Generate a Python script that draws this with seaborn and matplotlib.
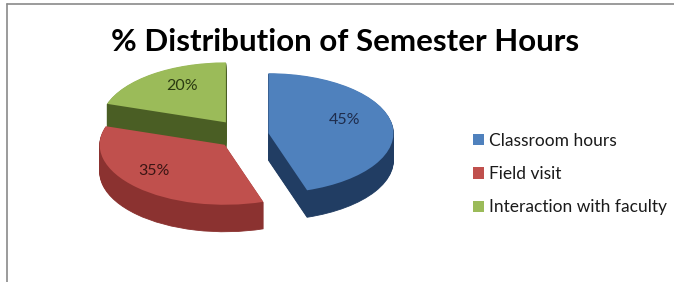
import numpy as np
import matplotlib
matplotlib.use("Agg")
import matplotlib.pyplot as plt
from matplotlib.lines import Line2D
import seaborn as sns

# data
categories = ["Classroom hours", "Field visit", "Interaction with faculty"]
shares = [45, 35, 20]
top_colors = ["#4F81BD", "#C0504D", "#9BBB59"]
side_colors = ["#213D63", "#8B3230", "#4A5E24"]
text_colors = ["#1E2C4C", "#3A1514", "#2B3A12"]
explode = [0.19, 0.23, 0.26]
label_dist = [0.62, 0.80, 0.60]

sns.set_theme(style="white")
plt.rcParams["font.family"] = ["Lato", "DejaVu Sans"]

W, H = 674, 282
fig = plt.figure(figsize=(W / 100, H / 100), dpi=100)
fig.patch.set_facecolor("white")

# pie geometry in pixels: centre, horizontal / vertical radius, depth
cx, cy = 245, 135
a, b = 125, 60
depth = 27

ax = fig.add_axes([0, 0, 1, 1])

# side walls: stacked layers shifted downwards
for k in range(depth, 0, -1):
    ax.pie(shares, colors=side_colors, explode=explode, startangle=90,
           counterclock=False, radius=1, center=(0, -k / b),
           wedgeprops=dict(linewidth=0.6, antialiased=True))
    for w, c in zip(ax.patches[-3:], side_colors):
        w.set_edgecolor(c)

# top faces
wedges, _ = ax.pie(shares, colors=top_colors, explode=explode, startangle=90,
                   counterclock=False, radius=1, center=(0, 0),
                   wedgeprops=dict(linewidth=0))

for w, pct, col, r in zip(wedges, shares, text_colors, label_dist):
    ang = np.deg2rad((w.theta1 + w.theta2) / 2)
    x0, y0 = w.center
    ax.text(x0 + r * np.cos(ang), y0 + r * np.sin(ang) + 0.12, f"{pct}%",
            ha="center", va="center", fontsize=11.5, color=col)

ax.set_aspect("auto")
ax.set_xlim(-cx / a, (W - cx) / a)
ax.set_ylim((cy - H) / b, cy / b)
ax.axis("off")

fig.text(345 / W, 1 - 42 / H, "% Distribution of Semester Hours",
         ha="center", va="center", fontsize=22.5, fontweight="bold",
         color="black")

leg = fig.legend(wedges, categories, loc="upper left",
                 bbox_to_anchor=(464 / W, 1 - 124 / H), frameon=False,
                 fontsize=12.5, handlelength=0.65, handleheight=0.65,
                 handletextpad=0.3, labelspacing=1.0, borderpad=0)
for t in leg.get_texts():
    t.set_color("#1a1a1a")

# chart frame (top and left edges only are visible)
fig.add_artist(Line2D([7 / W, 1], [1 - 4 / H, 1 - 4 / H], color="#8a8a8a", lw=1.2))
fig.add_artist(Line2D([7 / W, 7 / W], [0, 1 - 4 / H], color="#8a8a8a", lw=1.2))

fig.savefig("out.png", dpi=100)
